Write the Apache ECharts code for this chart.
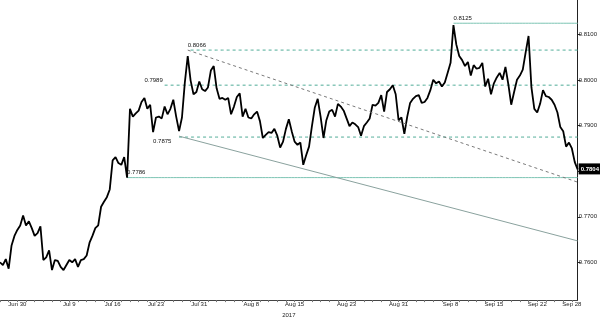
<!DOCTYPE html>
<html>
<head>
<meta charset="utf-8">
<script src="https://cdn.jsdelivr.net/npm/echarts@6/dist/echarts.min.js"></script>
<style>
html,body{margin:0;padding:0;background:#fff;}
#chart{width:600px;height:323px;}
</style>
</head>
<body>
<div id="chart"></div>
<script>
// ---- DATA ----
// price, 3 readings per trading day (Jun 28 2017 .. Sep 28 2017)
const prices = [
0.7600,0.7594,0.7607,0.7586,0.7637,0.7658,0.7671,0.7681,0.7703,0.7681,
0.7690,0.7675,0.7658,0.7664,0.7679,0.7605,0.7611,0.7626,0.7583,0.7605,
0.7603,0.7590,0.7583,0.7594,0.7605,0.7600,0.7607,0.7590,0.7605,0.7607,
0.7615,0.7643,0.7658,0.7675,0.7681,0.7722,0.7733,0.7743,0.7760,0.7824,
0.7831,0.7818,0.7814,0.7831,0.7786,0.7937,0.7920,0.7927,0.7933,0.7952,
0.7961,0.7937,0.7946,0.7886,0.7918,0.7920,0.7916,0.7942,0.7925,0.7937,
0.7957,0.7920,0.7888,0.7918,0.7995,0.8053,0.7999,0.7969,0.7974,0.7997,
0.7980,0.7976,0.7984,0.8021,0.8031,0.7982,0.7959,0.7961,0.7957,0.7961,
0.7925,0.7942,0.7963,0.7971,0.7920,0.7937,0.7918,0.7916,0.7925,0.7931,
0.7910,0.7873,0.7880,0.7886,0.7884,0.7893,0.7878,0.7852,0.7865,0.7893,
0.7914,0.7888,0.7865,0.7858,0.7863,0.7814,0.7835,0.7854,0.7899,0.7940,
0.7959,0.7920,0.7873,0.7912,0.7931,0.7935,0.7920,0.7948,0.7942,0.7933,
0.7916,0.7899,0.7907,0.7903,0.7897,0.7878,0.7899,0.7907,0.7916,0.7946,
0.7944,0.7950,0.7967,0.7931,0.7974,0.7980,0.7989,0.7969,0.7912,0.7918,
0.7882,0.7920,0.7950,0.7959,0.7965,0.7967,0.7950,0.7952,0.7961,0.7978,
0.8001,0.7993,0.7997,0.7986,0.7995,0.8016,0.8038,0.8121,0.8078,0.8053,
0.8044,0.8031,0.8040,0.8010,0.8033,0.8025,0.8027,0.8038,0.7986,0.8003,
0.7969,0.7993,0.8006,0.8016,0.8001,0.8029,0.7991,0.7946,0.7974,0.8001,
0.8010,0.8023,0.8061,0.8097,0.7984,0.7937,0.7929,0.7948,0.7978,0.7965,
0.7963,0.7957,0.7946,0.7929,0.7897,0.7888,0.7854,0.7863,0.7850,0.7820,
0.7804
];
const startDay = '2017-06-28';
const endDay = '2017-09-28';
const slotsPerDay = ['00h','08h','16h'];
// x tick labels and the trading day they mark
const tickDays   = ['Jun 30','Jul 10','Jul 17','Jul 24','Jul 31','Aug 8','Aug 15','Aug 23','Aug 31','Sep 8','Sep 15','Sep 22','Sep 28'];
const tickLabels = ['Jun 30','Jul 9','Jul 16','Jul 23','Jul 31','Aug 8','Aug 15','Aug 23','Aug 31','Sep 8','Sep 15','Sep 22','Sep 28'];
const yTickValues = [0.76,0.77,0.78,0.79,0.80,0.81];
const yMin = 0.7517, yMax = 0.8176;
// annotated levels: value, index of label anchor, index where the line starts
const levelValues   = [0.8125, 0.8066, 0.7989, 0.7875, 0.7786];
const levelLabelIdx = [157, 65, 50, 53, 44];
const levelLineIdx  = [157, 66, 57, 62, 44];
// trend lines [startIdx, startValue, endIdx, endValue]
const trendDown = [65, 0.8066, 200, 0.7776];
const trendLow  = [62, 0.7877, 200, 0.7647];
const lastValue = 0.7804;

// ---- categories ----
const months = ['Jan','Feb','Mar','Apr','May','Jun','Jul','Aug','Sep','Oct','Nov','Dec'];
const categories = [];
(function(){
  const d = new Date(startDay + 'T12:00:00');
  const e = new Date(endDay + 'T12:00:00');
  while (d <= e) {
    const wd = d.getDay();
    if (wd !== 0 && wd !== 6) {
      const lab = months[d.getMonth()] + ' ' + d.getDate();
      slotsPerDay.forEach(s => categories.push(lab + '|' + s));
    }
    d.setDate(d.getDate() + 1);
  }
})();
function tickPos(i){
  if (i % slotsPerDay.length !== 0) return -1;
  const day = categories[i].split('|')[0];
  return tickDays.indexOf(day);
}

// ---- styles ----
const levelIsSolid = [true,false,false,false,true];
const labelBelow = [false,false,false,true,false];
const lastIdx = prices.length - 1;

// level lines drawn as their own small line series so each keeps its colour
const levelSeries = levelValues.map((v,i)=>({
  type:'line', symbol:'none', silent:true, z:1,
  data: categories.map((c,k)=> k >= levelLineIdx[i] ? v : null),
  lineStyle: levelIsSolid[i]
    ? {color:'#7cc4b3', width:1, type:'solid'}
    : {color:'#4eab96', width:1, type:[3,3]},
  emphasis:{disabled:true}
}));

const markLineData = [
  [{coord:[trendDown[0], trendDown[1]], lineStyle:{color:'#7a7a7a', width:1, type:[3,3]}},
   {coord:[trendDown[2], trendDown[3]]}],
  [{coord:[trendLow[0], trendLow[1]], lineStyle:{color:'#8aa29e', width:1, type:'solid'}},
   {coord:[trendLow[2], trendLow[3]]}]
];

const markPointData = levelValues.map((v,i)=>({
  coord:[levelLabelIdx[i], v],
  value: v.toFixed(4),
  label:{position: labelBelow[i] ? [0,1] : [0,-8]}
}));
markPointData.push({
  coord:[lastIdx, lastValue],
  value:lastValue.toFixed(4),
  label:{position:[1,-6], backgroundColor:'#000', color:'#fff', padding:[3,2,2,2], fontWeight:'bold'}
});

const chart = echarts.init(document.getElementById('chart'), null, {renderer:'canvas'});
chart.setOption({
  animation:false,
  backgroundColor:'#fff',
  grid:{left:0, right:21, top:0, bottom:14, containLabel:false},
  xAxis:{
    type:'category', data:categories, boundaryGap:false,
    name:'2017', nameLocation:'middle', nameGap:7,
    nameTextStyle:{fontSize:6, color:'#222', fontFamily:'Liberation Sans'},
    axisLine:{lineStyle:{color:'#444', width:1}},
    axisTick:{show:true, interval:(i)=> i % slotsPerDay.length === 0, length:2, lineStyle:{color:'#777'}},
    axisLabel:{
      interval:(i)=> tickPos(i) >= 0,
      formatter:(v,i)=> { const p = tickPos(i); return p >= 0 ? tickLabels[p] : ''; },
      fontSize:6, color:'#222', margin:1, fontFamily:'Liberation Sans', hideOverlap:false
    },
    splitLine:{show:false}
  },
  yAxis:{
    type:'value', position:'right', min:yMin, max:yMax, scale:true,
    axisLine:{show:true, lineStyle:{color:'#222', width:1}},
    axisTick:{show:true, customValues:yTickValues, length:3, lineStyle:{color:'#222'}},
    axisLabel:{customValues:yTickValues, formatter:(v)=>Number(v).toFixed(4), fontSize:6, color:'#222', margin:1, fontFamily:'Liberation Sans'},
    splitLine:{show:false}
  },
  series: levelSeries.concat([{
    type:'line', data:prices, symbol:'none', silent:true, z:3,
    lineStyle:{color:'#000', width:1.8},
    markLine:{silent:true, symbol:['none','none'], label:{show:false}, data:markLineData, animation:false,
      emphasis:{disabled:true}},
    markPoint:{silent:true, symbol:'rect', symbolSize:0, animation:false,
      label:{show:true, formatter:(p)=>p.value, fontSize:6, color:'#111', fontFamily:'Liberation Sans'},
      data:markPointData}
  }])
});
</script>
</body>
</html>
